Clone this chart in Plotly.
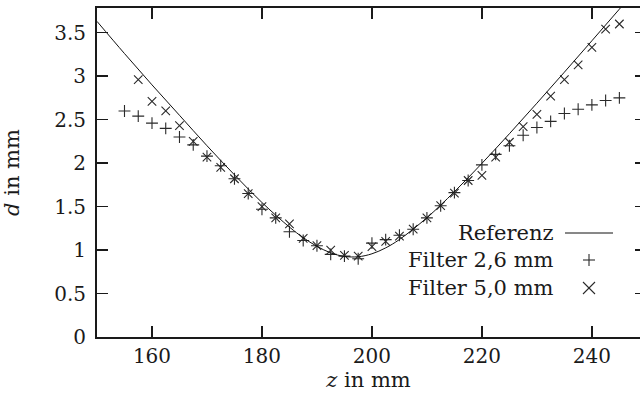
import plotly.graph_objects as go

# ---- data ----
z_ref = [150, 155, 160, 165, 170, 175, 180, 185, 187.5, 190, 192.5, 195, 197.5,
         200, 202.5, 205, 210, 215, 220, 225, 230, 235, 240, 245, 250]
d_ref = [3.63, 3.26, 2.90, 2.55, 2.20, 1.865, 1.547, 1.264, 1.143, 1.043, 0.968, 0.927, 0.923,
         0.957, 1.025, 1.121, 1.372, 1.671, 1.997, 2.338, 2.689, 3.046, 3.407, 3.771, 4.138]

z_f26 = [155, 157.5, 160, 162.5, 165, 167.5, 170, 172.5, 175, 177.5, 180, 182.5, 185,
         187.5, 190, 192.5, 195, 197.5, 200, 202.5, 205, 207.5, 210, 212.5, 215, 217.5,
         220, 222.5, 225, 227.5, 230, 232.5, 235, 237.5, 240, 242.5, 245]
d_f26 = [2.60, 2.54, 2.46, 2.40, 2.30, 2.21, 2.08, 1.97, 1.82, 1.65, 1.47, 1.37, 1.21,
         1.11, 1.05, 0.95, 0.93, 0.90, 1.08, 1.12, 1.17, 1.24, 1.37, 1.51, 1.66, 1.80,
         1.98, 2.10, 2.20, 2.32, 2.41, 2.48, 2.57, 2.62, 2.67, 2.72, 2.75]

z_f50 = [157.5, 160, 162.5, 165, 167.5, 170, 172.5, 175, 177.5, 180, 182.5, 185,
         187.5, 190, 192.5, 195, 197.5, 200, 202.5, 205, 207.5, 210, 212.5, 215, 217.5,
         220, 222.5, 225, 227.5, 230, 232.5, 235, 237.5, 240, 242.5, 245]
d_f50 = [2.96, 2.71, 2.60, 2.43, 2.25, 2.07, 1.95, 1.82, 1.65, 1.50, 1.37, 1.30,
         1.135, 1.05, 1.00, 0.94, 0.93, 1.04, 1.10, 1.16, 1.24, 1.37, 1.51, 1.655, 1.80,
         1.86, 2.07, 2.24, 2.42, 2.56, 2.77, 2.96, 3.13, 3.33, 3.54, 3.60]

x_ticks = [160, 180, 200, 220, 240]
y_ticks = [0, 0.5, 1, 1.5, 2, 2.5, 3, 3.5]
y_tick_text = ["0", "0.5", "1", "1.5", "2", "2.5", "3", "3.5"]

legend_names = ["Referenz", "Filter 2,6 mm", "Filter 5,0 mm"]

# ---- styling ----
FONT = "DejaVu Serif"
FS_TICK = 20
FS_TEXT = 21
INK = "#1a1a1a"
MK = "#2a2a2a"
X_RANGE = [150, 248.75]
Y_RANGE = [0, 3.784]

fig = go.Figure()
fig.add_trace(go.Scatter(x=z_ref, y=d_ref, mode="lines", line=dict(color="#111", width=1, shape="spline"),
                         name=legend_names[0], yaxis="y2", hoverinfo="skip"))
fig.add_trace(go.Scatter(x=z_f26, y=d_f26, mode="markers", name=legend_names[1],
                         marker=dict(symbol="cross-thin", size=8.5, line=dict(color=MK, width=1.1))))
fig.add_trace(go.Scatter(x=z_f50, y=d_f50, mode="markers", name=legend_names[2],
                         marker=dict(symbol="x-thin", size=8.5, line=dict(color=MK, width=1.1))))

tick_font = dict(family=FONT, size=FS_TICK, color=INK)
text_font = dict(family=FONT, size=FS_TEXT, color=INK)

fig.update_layout(
    width=640, height=393,
    margin=dict(l=97, r=0, t=8, b=56),
    paper_bgcolor="white", plot_bgcolor="white",
    showlegend=False,
    hovermode=False,
    font=text_font,
    xaxis=dict(range=X_RANGE, tickvals=x_ticks, ticks="inside", ticklen=11, tickwidth=1.4,
               tickcolor=INK, showline=True, linecolor=INK, linewidth=2, mirror="ticks",
               showgrid=False, zeroline=False, tickfont=tick_font, ticklabelstandoff=0,
               automargin=False,
               title=dict(text="<i>z</i> in mm", font=text_font, standoff=0)),
    yaxis=dict(range=Y_RANGE, tickvals=y_ticks, ticktext=y_tick_text, ticks="inside", ticklen=11,
               tickwidth=1.4, tickcolor=INK, showline=True, linecolor=INK, linewidth=2,
               showgrid=False, zeroline=False, tickfont=tick_font, ticklabelstandoff=5,
               automargin=False,
               title=dict(text="<i>d</i> in mm", font=text_font, standoff=30)),
    yaxis2=dict(range=Y_RANGE, overlaying="y", side="right", tickvals=y_ticks, ticks="inside",
                ticklen=5, tickwidth=1.4, tickcolor=INK, showticklabels=False, showline=False,
                showgrid=False, zeroline=False, automargin=False),
)

# ---- legend (text right-aligned, key on the right, as in the reference) ----
def px(x):
    return (x - 97) / 543.0

def py(y):
    return (337 - y) / 329.0

rows_y = [233, 260, 288]
for name, yy in zip(legend_names, rows_y):
    fig.add_annotation(x=px(556), y=py(yy), xref="paper", yref="paper", text=name,
                       showarrow=False, xanchor="right", yanchor="middle", font=text_font)

key = dict(color=MK, width=1.1)
fig.add_shape(type="line", xref="paper", yref="paper", x0=px(565), x1=px(613), y0=py(233), y1=py(233),
              line=dict(color="#111", width=1))
cx = 589
fig.add_shape(type="line", xref="paper", yref="paper", x0=px(cx - 6), x1=px(cx + 6), y0=py(260), y1=py(260), line=key)
fig.add_shape(type="line", xref="paper", yref="paper", x0=px(cx), x1=px(cx), y0=py(254), y1=py(266), line=key)
fig.add_shape(type="line", xref="paper", yref="paper", x0=px(cx - 6), x1=px(cx + 6), y0=py(282), y1=py(294), line=key)
fig.add_shape(type="line", xref="paper", yref="paper", x0=px(cx - 6), x1=px(cx + 6), y0=py(294), y1=py(282), line=key)

fig.write_html("out.html", config={"displayModeBar": False, "staticPlot": True},
               post_script="document.body.style.margin='0';document.body.style.overflow='hidden';")
